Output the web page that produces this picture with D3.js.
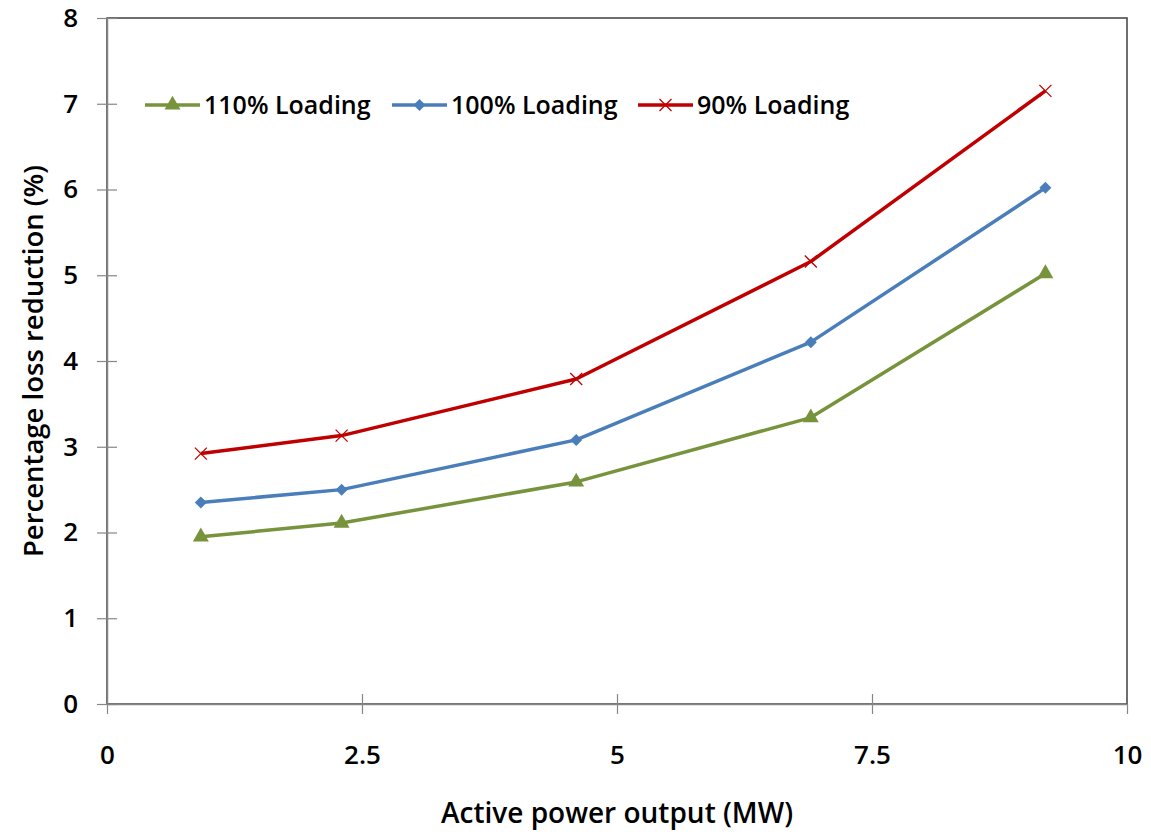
<!DOCTYPE html>
<html>
<head>
<meta charset="utf-8">
<script src="https://cdn.jsdelivr.net/npm/d3@7"></script>
<style>
  body { margin: 0; background: #fff; }
  text { font-family: "Open Sans", "Noto Sans", sans-serif; }
</style>
</head>
<body>
<div id="chart"></div>
<script>
const w = 1151;
const h = 834;
const margin = { top: 18, right: 24, bottom: 130, left: 107 };

const powerOutput = [0.92, 2.3, 4.6, 6.9, 9.2];
const loading110 = [1.95, 2.11, 2.59, 3.34, 5.02];
const loading100 = [2.35, 2.50, 3.08, 4.22, 6.02];
const loading90 = [2.92, 3.13, 3.79, 5.16, 7.15];
const xTicks = [0, 2.5, 5, 7.5, 10];
const yTicks = [0, 1, 2, 3, 4, 5, 6, 7, 8];

const seriesList = [
    { name: "110% Loading", values: loading110, color: "#77933C", marker: "triangle" },
    { name: "100% Loading", values: loading100, color: "#4A7EBB", marker: "diamond" },
    { name: "90% Loading", values: loading90, color: "#C00000", marker: "cross" }
];

const svg = d3.select("#chart")
    .append("svg")
    .attr("width", w)
    .attr("height", h);

const x = d3.scaleLinear().domain([0, 10]).range([margin.left, w - margin.right]);
const y = d3.scaleLinear().domain([0, 8]).range([h - margin.bottom, margin.top]);

// plot area border
svg.append("rect")
    .attr("x", x(0))
    .attr("y", y(8))
    .attr("width", x(10) - x(0))
    .attr("height", y(0) - y(8))
    .attr("fill", "none")
    .attr("stroke", "#404040")
    .attr("stroke-width", 1.5);

// y axis
const yAxis = svg.append("g")
    .attr("transform", `translate(${x(0)},0)`)
    .call(d3.axisLeft(y).tickValues(yTicks).tickSize(10).tickSizeOuter(0));
yAxis.select(".domain").attr("stroke", "#868686").attr("stroke-width", 1.5);
yAxis.selectAll(".tick line").attr("stroke", "#868686").attr("stroke-width", 1.2)
    .attr("x1", 10).attr("x2", -10);
yAxis.selectAll(".tick text")
    .attr("x", -29)
    .attr("font-size", "26px")
    .attr("font-weight", "600")
    .attr("fill", "#000")
    .style("font-family", "'Open Sans', sans-serif");

// x axis
const xAxis = svg.append("g")
    .attr("transform", `translate(0,${y(0)})`)
    .call(d3.axisBottom(x).tickValues(xTicks).tickSize(10).tickSizeOuter(0)
        .tickFormat(d3.format("")));
xAxis.select(".domain").attr("stroke", "#868686").attr("stroke-width", 1.5);
xAxis.selectAll(".tick line").attr("stroke", "#868686").attr("stroke-width", 1.2)
    .attr("y1", 10).attr("y2", -10);
xAxis.selectAll(".tick").filter(d => d === 0 || d === 10).select("line").attr("y2", 0);
xAxis.selectAll(".tick text")
    .attr("y", 60)
    .attr("dy", null)
    .attr("font-size", "26px")
    .attr("font-weight", "600")
    .attr("fill", "#000")
    .style("font-family", "'Open Sans', sans-serif");

// axis titles
svg.append("text")
    .attr("x", (x(0) + x(10)) / 2)
    .attr("y", 823)
    .attr("text-anchor", "middle")
    .attr("font-size", "28px")
    .attr("font-weight", "600")
    .text("Active power output (MW)");

svg.append("text")
    .attr("transform", `translate(43,${(y(0) + y(8)) / 2}) rotate(-90)`)
    .attr("text-anchor", "middle")
    .attr("font-size", "27.5px")
    .attr("font-weight", "600")
    .text("Percentage loss reduction (%)");

const line = d3.line()
    .x((d, i) => x(powerOutput[i]))
    .y(d => y(d));

function drawMarker(g, type, color) {
    if (type === "triangle") {
        g.append("path")
            .attr("d", d3.symbol().type(d3.symbolTriangle).size(110)())
            .attr("fill", color);
    } else if (type === "diamond") {
        g.append("path")
            .attr("d", "M0,-6 L6,0 L0,6 L-6,0 Z")
            .attr("fill", color);
    } else {
        g.append("path")
            .attr("d", "M-6,-6 L6,6 M-6,6 L6,-6")
            .attr("stroke", color)
            .attr("stroke-width", 1.3)
            .attr("fill", "none");
    }
}

seriesList.forEach(s => {
    svg.append("path")
        .datum(s.values)
        .attr("d", line)
        .attr("fill", "none")
        .attr("stroke", s.color)
        .attr("stroke-width", 3.5)
        .attr("stroke-linejoin", "round");

    svg.selectAll(null)
        .data(s.values)
        .enter()
        .append("g")
        .attr("transform", (d, i) => `translate(${x(powerOutput[i])},${y(d)})`)
        .each(function () { drawMarker(d3.select(this), s.marker, s.color); });
});

// legend
const legendX = [145, 392, 638];
const legendY = 105;
seriesList.forEach((s, i) => {
    const g = svg.append("g").attr("transform", `translate(${legendX[i]},${legendY})`);
    g.append("line")
        .attr("x1", 0).attr("x2", 55)
        .attr("stroke", s.color)
        .attr("stroke-width", 3.5);
    const m = g.append("g").attr("transform", "translate(27.5,0)");
    drawMarker(m, s.marker, s.color);
    g.append("text")
        .attr("x", 59)
        .attr("y", 9)
        .attr("font-size", "25px")
        .attr("font-weight", "600")
        .text(s.name);
});
</script>
</body>
</html>
